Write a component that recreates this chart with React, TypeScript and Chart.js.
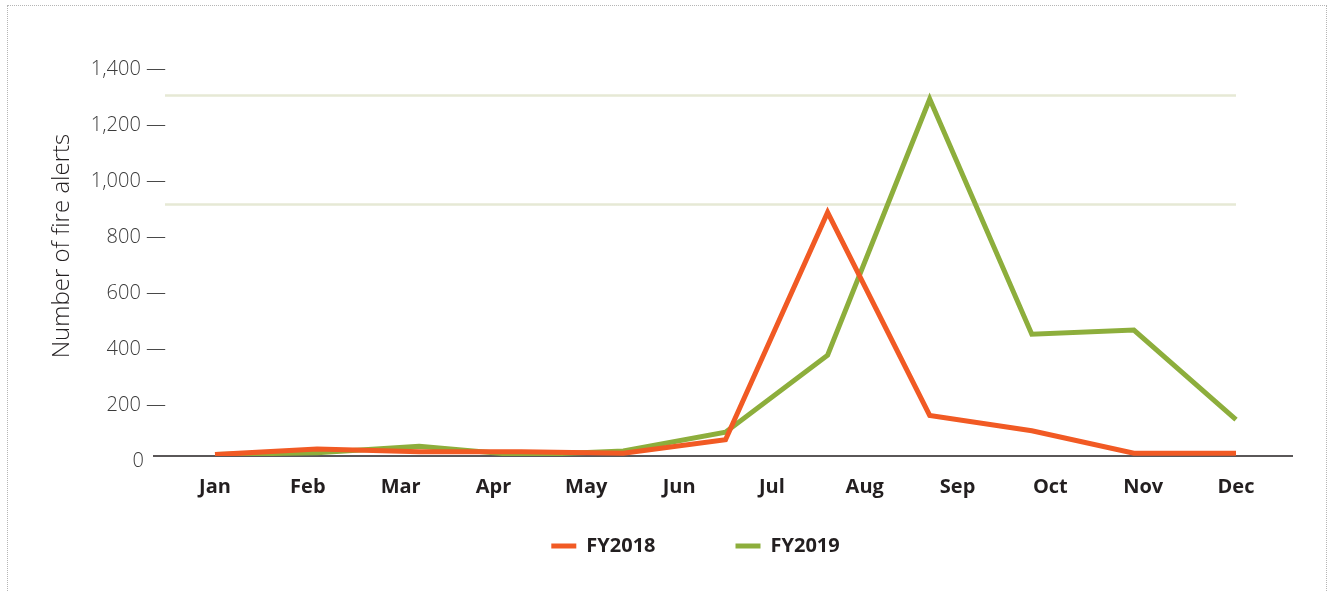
import React, { useEffect, useRef } from "react";
import { Chart, registerables } from "chart.js";

Chart.register(...registerables);

// Tick labels of the visible month axis
const monthLabels = ["Jan", "Feb", "Mar", "Apr", "May", "Jun", "Jul", "Aug", "Sep", "Oct", "Nov", "Dec"];
// The plotted series have 11 points spread across the month axis
const pointLabels = ["P1", "P2", "P3", "P4", "P5", "P6", "P7", "P8", "P9", "P10", "P11"];
const fy2018 = [5, 25, 15, 15, 10, 58, 870, 145, 90, 10, 10];
const fy2019 = [5, 12, 35, 3, 18, 85, 360, 1275, 435, 450, 130];
const yTicks = [0, 200, 400, 600, 800, 1000, 1200, 1400];
const guideValues = [1290, 900];

const ORANGE = "#f15a24";
const GREEN = "#8dae3c";
const FONT = "'Open Sans', 'Noto Sans', sans-serif";

const guidePlugin = {
  id: "guides",
  beforeDatasetsDraw(chart: any) {
    const { ctx, chartArea, scales } = chart;
    const y = scales.y;
    ctx.save();
    ctx.strokeStyle = "#e6e9d5";
    ctx.lineWidth = 2.5;
    guideValues.forEach((v) => {
      const py = Math.round(y.getPixelForValue(v)) + 0.5;
      ctx.beginPath();
      ctx.moveTo(chartArea.left - 50, py);
      ctx.lineTo(chartArea.right, py);
      ctx.stroke();
    });
    const y0 = y.getPixelForValue(0);
    ctx.strokeStyle = "#231f20";
    ctx.lineWidth = 1.5;
    ctx.beginPath();
    ctx.moveTo(chartArea.left - 62, y0);
    ctx.lineTo(chartArea.right + 57, y0);
    ctx.stroke();
    ctx.restore();
  },
};

export default function App() {
  const ref = useRef<HTMLCanvasElement | null>(null);

  useEffect(() => {
    if (!ref.current) return;
    const chart = new Chart(ref.current, {
      type: "line",
      data: {
        labels: pointLabels,
        datasets: [
          {
            label: "FY2018",
            data: fy2018,
            borderColor: ORANGE,
            backgroundColor: ORANGE,
            borderWidth: 5,
            pointRadius: 0,
            tension: 0,
            xAxisID: "xd",
            borderJoinStyle: "miter",
          },
          {
            label: "FY2019",
            data: fy2019,
            borderColor: GREEN,
            backgroundColor: GREEN,
            borderWidth: 5,
            pointRadius: 0,
            tension: 0,
            xAxisID: "xd",
            borderJoinStyle: "miter",
          },
        ],
      },
      options: {
        animation: false,
        responsive: false,
        maintainAspectRatio: false,
        layout: { padding: { left: 90, right: 29, top: 36, bottom: 25 } },
        plugins: {
          tooltip: { enabled: false },
          legend: {
            position: "bottom",
            labels: {
              boxWidth: 25,
              boxHeight: 5,
              padding: 80,
              color: "#231f20",
              font: { family: FONT, size: 20, weight: "bold" },
              generateLabels: (c: any) =>
                (Chart.defaults.plugins.legend.labels.generateLabels as any)(c).map((l: any) => ({
                  ...l,
                  lineWidth: 0,
                  fillStyle: l.strokeStyle,
                })),
            },
          },
        },
        scales: {
          xd: {
            type: "category",
            display: false,
            offset: false,
          },
          x: {
            type: "category",
            labels: monthLabels,
            offset: false,
            position: "bottom",
            grid: { display: false, drawTicks: false },
            border: { display: false },
            ticks: {
              mirror: true,
              padding: -43,
              color: "#231f20",
              font: { family: FONT, size: 20, weight: "bold" },
              maxRotation: 0,
              autoSkip: false,
            },
            afterFit: (s: any) => {
              s.height = 0;
            },
          },
          y: {
            type: "linear",
            min: 0,
            max: 1500,
            grid: { display: false, drawTicks: true, tickLength: 49 },
            border: { display: false },
            afterBuildTicks: (s: any) => {
              s.ticks = yTicks.map((v) => ({ value: v }));
            },
            afterFit: (s: any) => {
              s.width = 125;
            },
            ticks: {
              padding: 0,
              labelOffset: 5,
              color: "#3a3a3a",
              font: { family: FONT, size: 20, weight: 300 },
              callback: (v: any) => (v === 0 ? "0\u2003\u200A" : Number(v).toLocaleString("en-US") + " \u2014"),
            },
            title: {
              display: true,
              text: "Number of fire alerts",
              color: "#231f20",
              font: { family: FONT, size: 24, weight: 300 },
              padding: { top: -42, bottom: 0 },
            },
          },
          yr: {
            type: "linear",
            position: "right",
            display: true,
            grid: { display: false, drawTicks: false },
            border: { display: false },
            ticks: { display: false },
            afterFit: (s: any) => {
              s.width = 65;
            },
          },
        },
      },
      plugins: [guidePlugin],
    } as any);
    return () => chart.destroy();
  }, []);

  return (
    <div style={{ position: "fixed", left: 0, top: 0, width: 1330, height: 591, background: "#fff", overflow: "hidden" }}>
      <div
        style={{
          position: "absolute",
          left: 7,
          top: 5,
          width: 1320,
          height: 620,
          border: "1px dotted #b5b5b5",
          boxSizing: "border-box",
        }}
      />
      <canvas ref={ref} width={1330} height={591} style={{ position: "absolute", left: 0, top: 0, width: 1330, height: 591 }} />
    </div>
  );
}
